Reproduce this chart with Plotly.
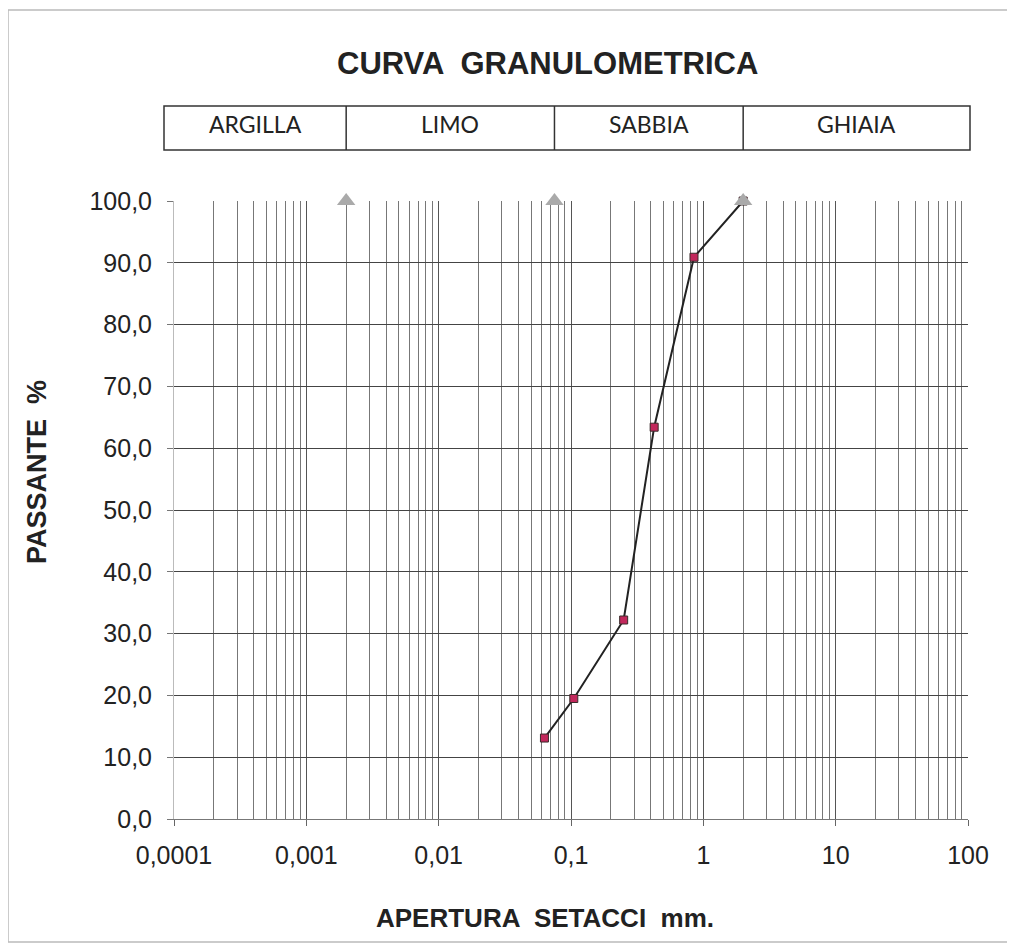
import numpy as np
import plotly.graph_objects as go

# Data
sieve_mm = [0.063, 0.105, 0.25, 0.425, 0.85, 2.0]
passing_pct = [13.1, 19.5, 32.2, 63.4, 90.9, 100.0]

class_limits_mm = [0.002, 0.075, 2.0]
class_marker_y = [100.0, 100.0, 100.0]
class_names = ["ARGILLA", "LIMO", "SABBIA", "GHIAIA"]

x_tick_vals = [0.0001, 0.001, 0.01, 0.1, 1, 10, 100]
x_tick_text = ["0,0001", "0,001", "0,01", "0,1", "1", "10", "100"]
minor_vals = [m * d for d in x_tick_vals[:-1] for m in range(2, 10)]

# page body has an 8px margin: screen px = figure px + 8
OFF = 8
W, H = 1015 - OFF, 945 - OFF
L, R, T, B = 174 - OFF, 47, 201 - OFF, 126
pw, ph = W - L - R, H - T - B

def px_to_paper_x(px):
    return (px - OFF - L) / pw

def px_to_paper_y(py):
    return (T + ph - (py - OFF)) / ph

lo, hi = np.log10(x_tick_vals[0]), np.log10(x_tick_vals[-1])
def data_to_paper_x(v):
    return (np.log10(v) - lo) / (hi - lo)

fig = go.Figure()

fig.add_trace(go.Scatter(
    x=sieve_mm, y=passing_pct, mode="lines+markers",
    line=dict(color="#222222", width=2),
    marker=dict(symbol="square", size=8, color="#c2285c",
                line=dict(color="#3a2a2a", width=1)),
    showlegend=False, cliponaxis=False))

fig.add_trace(go.Scatter(
    x=class_limits_mm, y=class_marker_y, mode="markers",
    marker=dict(symbol="triangle-up", size=16, color="#aaaaaa"),
    showlegend=False, hoverinfo="skip", cliponaxis=False))

# Soil class boxes
box_x = [px_to_paper_x(164)] + [data_to_paper_x(v) for v in class_limits_mm] + [px_to_paper_x(970)]
by0, by1 = px_to_paper_y(150), px_to_paper_y(106)
shapes = []
shapes.append(dict(type="rect", xref="paper", yref="paper", x0=box_x[0], x1=box_x[-1],
                   y0=by0, y1=by1, line=dict(color="#333333", width=1.5)))
annotations = []
for i, name in enumerate(class_names):
    if i > 0:
        shapes.append(dict(type="line", xref="paper", yref="paper", x0=box_x[i], x1=box_x[i],
                           y0=by0, y1=by1, line=dict(color="#333333", width=1.5)))
    annotations.append(dict(xref="paper", yref="paper", x=(box_x[i] + box_x[i + 1]) / 2,
                            y=(by0 + by1) / 2 + 0.006, xanchor="center", yanchor="middle",
                            text=name, showarrow=False,
                            font=dict(family="Lato, Open Sans, sans-serif",
                                      size=23, color="#222222")))

# outer frame
shapes.append(dict(type="rect", xref="paper", yref="paper",
                   x0=px_to_paper_x(8), x1=px_to_paper_x(1013),
                   y0=px_to_paper_y(942), y1=px_to_paper_y(10),
                   line=dict(color="#bbbbbb", width=1.5), layer="below"))

bold = "Liberation Sans, Arial, sans-serif"
annotations.append(dict(xref="paper", yref="paper", x=px_to_paper_x(547), y=px_to_paper_y(63),
                        xanchor="center", yanchor="middle",
                        text="<b>CURVA  GRANULOMETRICA</b>", showarrow=False,
                        font=dict(family=bold, size=31, color="#222222")))
annotations.append(dict(xref="paper", yref="paper", x=px_to_paper_x(545), y=px_to_paper_y(918),
                        xanchor="center", yanchor="middle",
                        text="<b>APERTURA  SETACCI  mm.</b>", showarrow=False,
                        font=dict(family=bold, size=26, color="#222222")))
annotations.append(dict(xref="paper", yref="paper", x=px_to_paper_x(37), y=px_to_paper_y(472),
                        xanchor="center", yanchor="middle",
                        text="<b>PASSANTE  %</b>", showarrow=False, textangle=-90,
                        font=dict(family=bold, size=27, color="#222222")))

fig.update_layout(
    width=W, height=H,
    margin=dict(l=L, r=R, t=T, b=B),
    paper_bgcolor="white", plot_bgcolor="white",
    separators=",.",
    shapes=shapes, annotations=annotations,
    font=dict(family="Liberation Sans, Arial, sans-serif", size=25, color="#222222"),
    xaxis=dict(type="log", range=[lo, hi], tickmode="array",
               tickvals=x_tick_vals, ticktext=x_tick_text,
               showgrid=True, gridcolor="#555555", gridwidth=1,
               ticks="outside", ticklen=6, tickcolor="#666666",
               ticklabelstandoff=8,
               showline=True, linecolor="#777777",
               minor=dict(tickmode="array", tickvals=minor_vals, showgrid=True,
                          gridcolor="#777777", gridwidth=1, ticks=""),
               zeroline=False),
    yaxis=dict(range=[0, 100], dtick=10, tickformat=".1f",
               showgrid=True, gridcolor="#444444", gridwidth=1,
               ticks="outside", ticklen=6, tickcolor="#777777",
               ticklabelstandoff=10,
               showline=True, linecolor="#bbbbbb", zeroline=False),
)

fig.write_html("out.html")
